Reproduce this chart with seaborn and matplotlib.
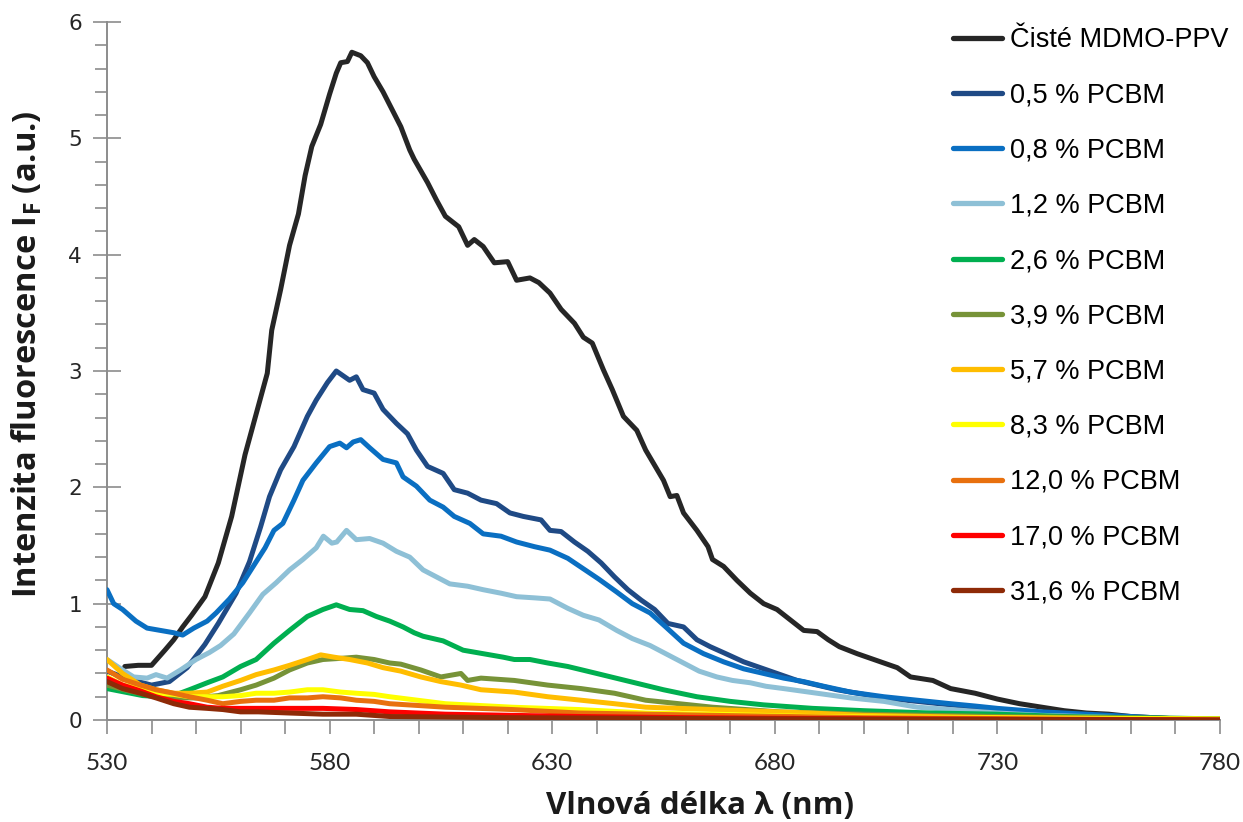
import matplotlib
matplotlib.use("Agg")
import matplotlib.pyplot as plt
from matplotlib.ticker import MultipleLocator, FixedLocator
import numpy as np
import pandas as pd
import seaborn as sns

# Fluorescence spectra (wavelength nm, intensity a.u.)
pure = [(534, 0.46), (537, 0.47), (540, 0.47), (543, 0.60), (545, 0.69), (547, 0.80), (549, 0.90),
        (552, 1.06), (555, 1.35), (558, 1.75), (561, 2.28), (564, 2.70), (566, 2.98), (567, 3.35),
        (569, 3.70), (571, 4.08), (573, 4.35), (574.5, 4.68), (576, 4.93), (578, 5.12), (580, 5.38),
        (581.5, 5.56), (582.5, 5.65), (584, 5.66), (585, 5.74), (587, 5.71), (588.5, 5.65), (590, 5.53),
        (592, 5.40), (594, 5.25), (596, 5.10), (598, 4.90), (599, 4.82), (602, 4.62), (604, 4.47),
        (606, 4.33), (609, 4.24), (611, 4.08), (612.5, 4.13), (614.5, 4.07), (617, 3.93), (620, 3.94),
        (622, 3.78), (625, 3.80), (627, 3.76), (629.5, 3.67), (632, 3.53), (635, 3.41), (637, 3.29),
        (639, 3.24), (641.5, 3.01), (643.5, 2.84), (646, 2.61), (649, 2.49), (651, 2.32), (655, 2.06),
        (656.5, 1.92), (658, 1.93), (659.5, 1.78), (662.5, 1.63), (665, 1.49), (666, 1.38), (668.5, 1.32),
        (671.5, 1.20), (674.5, 1.09), (677.5, 1.00), (680.5, 0.95), (683.5, 0.86), (686.5, 0.77),
        (689.5, 0.76), (692, 0.69), (694.5, 0.63), (698.5, 0.57), (701.5, 0.53), (704.5, 0.49),
        (707.5, 0.45), (710.5, 0.37), (715.5, 0.34), (719.5, 0.27), (725, 0.23), (730, 0.18),
        (735, 0.14), (740, 0.11), (745, 0.08), (750, 0.06), (755, 0.05), (760, 0.03), (765, 0.02),
        (770, 0.01), (775, 0.01), (780, 0.0)]

pcbm_05 = [(530, 0.42), (535, 0.35), (540, 0.30), (544, 0.33), (548, 0.45), (550, 0.55), (552, 0.65),
           (555, 0.83), (559, 1.09), (562, 1.36), (564.5, 1.66), (566.5, 1.92), (569, 2.15), (572, 2.35),
           (575, 2.61), (577, 2.75), (579.5, 2.90), (581.5, 3.00), (584.5, 2.92), (586, 2.95), (587.5, 2.84),
           (590, 2.81), (592, 2.67), (595, 2.55), (597.5, 2.46), (599.5, 2.32), (602, 2.18), (605.5, 2.12),
           (608, 1.98), (611, 1.95), (614, 1.89), (617.5, 1.86), (620.5, 1.78), (623.5, 1.75), (627.5, 1.72),
           (629.5, 1.63), (632, 1.62), (635, 1.53), (638, 1.45), (641, 1.35), (644, 1.23), (647, 1.12),
           (650, 1.03), (653, 0.95), (656, 0.83), (659.5, 0.80), (662.5, 0.69), (665.5, 0.63), (669, 0.57),
           (673, 0.50), (676, 0.46), (680.5, 0.40), (685, 0.34), (689.5, 0.30), (694, 0.26), (698.5, 0.23),
           (704.5, 0.19), (712, 0.16), (719.5, 0.13), (725, 0.11), (730, 0.09), (740, 0.06), (750, 0.04),
           (760, 0.02), (770, 0.01), (780, 0.0)]

pcbm_08 = [(530, 1.12), (531.5, 1.00), (533.5, 0.95), (536.5, 0.85), (539, 0.79), (542, 0.77), (545, 0.75),
           (547, 0.73), (549.5, 0.79), (552.5, 0.85), (554.5, 0.92), (557.5, 1.04), (560.5, 1.18),
           (563.5, 1.36), (565.5, 1.48), (567.5, 1.63), (569.5, 1.69), (572, 1.89), (574, 2.06), (577, 2.21),
           (580, 2.35), (582.3, 2.38), (583.8, 2.34), (585.3, 2.39), (587, 2.41), (589, 2.34), (592, 2.24),
           (595, 2.21), (596.5, 2.09), (599.5, 2.01), (602.5, 1.89), (605.5, 1.83), (608, 1.75), (611.5, 1.69),
           (614.5, 1.60), (618.5, 1.58), (622, 1.53), (626, 1.49), (629.5, 1.46), (633.5, 1.39), (637, 1.30),
           (640.5, 1.21), (644.5, 1.10), (648, 1.00), (652, 0.92), (655.5, 0.80), (659.5, 0.66), (664, 0.57),
           (668.5, 0.50), (673, 0.44), (677.5, 0.40), (682, 0.36), (686.5, 0.33), (691, 0.29), (697, 0.24),
           (704.5, 0.20), (712, 0.17), (719.5, 0.14), (725, 0.12), (730, 0.10), (740, 0.07), (750, 0.05),
           (760, 0.03), (770, 0.01), (780, 0.0)]

pcbm_12 = [(530, 0.52), (533.5, 0.43), (536, 0.37), (539, 0.36), (541, 0.39), (543.5, 0.36), (546.5, 0.43),
           (550, 0.52), (553, 0.58), (555.5, 0.64), (558.5, 0.74), (562, 0.92), (565, 1.08), (568, 1.18),
           (571, 1.29), (574, 1.38), (577, 1.48), (578.6, 1.58), (580.5, 1.52), (581.6, 1.53), (583.8, 1.63),
           (586, 1.55), (589, 1.56), (592, 1.52), (595, 1.45), (598, 1.40), (601, 1.29), (604, 1.23),
           (607, 1.17), (611, 1.15), (614.5, 1.12), (618.5, 1.09), (622, 1.06), (626, 1.05), (629.5, 1.04),
           (633.5, 0.96), (637, 0.90), (640.5, 0.86), (644.5, 0.77), (648, 0.70), (652, 0.64), (655.5, 0.57),
           (659.5, 0.49), (663, 0.42), (667, 0.37), (670.5, 0.34), (674.5, 0.32), (678, 0.29), (682, 0.27),
           (689.5, 0.23), (697, 0.19), (704.5, 0.16), (712, 0.11), (719.5, 0.09), (730, 0.06), (740, 0.04),
           (750, 0.03), (765, 0.01), (780, 0.0)]

pcbm_26 = [(530, 0.27), (534, 0.24), (538, 0.21), (542, 0.20), (545, 0.21), (548.5, 0.26), (552.5, 0.32),
           (556, 0.37), (560, 0.46), (563.5, 0.52), (567.5, 0.66), (571, 0.77), (575, 0.89), (578.5, 0.95),
           (581.5, 0.99), (584.5, 0.95), (587.5, 0.94), (590.5, 0.89), (593.5, 0.85), (596.5, 0.80),
           (599, 0.75), (601, 0.72), (605.5, 0.68), (610, 0.60), (614.5, 0.57), (619, 0.54), (621.5, 0.52),
           (625, 0.52), (629, 0.49), (633.5, 0.46), (640, 0.40), (647.5, 0.33), (655, 0.26), (662.5, 0.20),
           (670, 0.16), (677.5, 0.13), (688.5, 0.10), (700, 0.08), (715, 0.06), (730, 0.05), (745, 0.03),
           (760, 0.02), (780, 0.01)]

pcbm_39 = [(530, 0.30), (535, 0.25), (540, 0.21), (545, 0.19), (550, 0.19), (555, 0.21), (560, 0.26),
           (563.5, 0.30), (567.5, 0.36), (571, 0.43), (575, 0.49), (578.5, 0.52), (582.5, 0.53), (586, 0.54),
           (590, 0.52), (593.5, 0.49), (596, 0.48), (600.5, 0.43), (605, 0.37), (609.5, 0.40), (611, 0.34),
           (614, 0.36), (621.5, 0.34), (629, 0.30), (636.5, 0.27), (644, 0.23), (651, 0.17), (658.5, 0.14),
           (666, 0.11), (681, 0.07), (700, 0.05), (730, 0.03), (755, 0.02), (780, 0.01)]

pcbm_57 = [(530, 0.52), (533.5, 0.40), (537.5, 0.30), (541, 0.26), (545, 0.23), (548.5, 0.23), (552.5, 0.24),
           (556, 0.29), (560, 0.34), (563.5, 0.39), (567.5, 0.43), (571, 0.47), (575, 0.52), (578, 0.56),
           (581, 0.54), (584.5, 0.52), (588.5, 0.49), (592, 0.45), (596, 0.42), (600.5, 0.37), (605, 0.33),
           (609.5, 0.30), (614, 0.26), (621.5, 0.24), (629, 0.20), (636.5, 0.17), (644, 0.14), (651, 0.11),
           (666, 0.09), (688, 0.06), (700, 0.04), (730, 0.02), (760, 0.01), (780, 0.0)]

pcbm_83 = [(530, 0.37), (533.5, 0.30), (537.5, 0.27), (541, 0.23), (545, 0.22), (548.5, 0.20), (552.5, 0.20),
           (556, 0.20), (560, 0.21), (563.5, 0.23), (567.5, 0.23), (571, 0.24), (575, 0.26), (578.5, 0.26),
           (582.5, 0.24), (586, 0.23), (590, 0.22), (593.5, 0.20), (606, 0.14), (621, 0.11), (636, 0.09),
           (651, 0.06), (666, 0.05), (688.5, 0.03), (720, 0.02), (780, 0.01)]

pcbm_120 = [(530, 0.43), (533.5, 0.35), (537.5, 0.30), (541, 0.26), (545, 0.23), (548.5, 0.20), (552.5, 0.17),
            (556, 0.14), (560, 0.16), (563.5, 0.17), (567.5, 0.17), (571, 0.19), (575, 0.19), (578.5, 0.20),
            (582.5, 0.19), (586, 0.17), (590, 0.16), (593.5, 0.14), (606, 0.11), (621, 0.09), (636, 0.06),
            (651, 0.05), (666, 0.04), (700, 0.02), (780, 0.0)]

pcbm_170 = [(530, 0.36), (533.5, 0.30), (537.5, 0.25), (541, 0.20), (545, 0.16), (548.5, 0.14), (552.5, 0.11),
            (556, 0.10), (571, 0.10), (578.5, 0.10), (586, 0.09), (593.5, 0.07), (606, 0.05), (621, 0.04),
            (636, 0.03), (660, 0.02), (700, 0.01), (780, 0.0)]

pcbm_316 = [(530, 0.33), (533.5, 0.27), (537.5, 0.23), (541, 0.19), (545, 0.14), (548.5, 0.11), (552.5, 0.10),
            (556, 0.09), (560, 0.07), (564, 0.07), (571, 0.06), (578.5, 0.05), (586, 0.05), (593.5, 0.03),
            (620, 0.02), (680, 0.01), (780, 0.0)]

labels = ["Čisté MDMO-PPV", "0,5 % PCBM", "0,8 % PCBM", "1,2 % PCBM", "2,6 % PCBM", "3,9 % PCBM",
          "5,7 % PCBM", "8,3 % PCBM", "12,0 % PCBM", "17,0 % PCBM", "31,6 % PCBM"]
series = [pure, pcbm_05, pcbm_08, pcbm_12, pcbm_26, pcbm_39, pcbm_57, pcbm_83, pcbm_120, pcbm_170, pcbm_316]
colors = ["#262626", "#1F4A85", "#0A6FC2", "#8EC0D6", "#00AF50", "#779338", "#FFBD00", "#FFFF00",
          "#E8700E", "#FF0000", "#8E2A07"]
x_ticks = [530, 580, 630, 680, 730, 780]
y_ticks = [0, 1, 2, 3, 4, 5, 6]

frames = []
for lab, pts in zip(labels, series):
    arr = np.array(pts, dtype=float)
    frames.append(pd.DataFrame({"wl": arr[:, 0], "I": arr[:, 1], "vzorek": lab}))
df = pd.concat(frames, ignore_index=True)

sns.set_style("white")
plt.rcParams["font.family"] = ["Liberation Sans", "DejaVu Sans"]

W, H = 1243, 822
fig = plt.figure(figsize=(W / 100, H / 100), dpi=100)
ax = fig.add_axes([107 / W, (H - 720) / H, 1113 / W, 698 / H])

sns.lineplot(data=df, x="wl", y="I", hue="vzorek", hue_order=labels,
             palette=dict(zip(labels, colors)), estimator=None, sort=False,
             linewidth=3.6, ax=ax, legend=True)

ax.set_xlim(x_ticks[0], x_ticks[-1])
ax.set_ylim(y_ticks[0], y_ticks[-1])
ax.xaxis.set_major_locator(FixedLocator(x_ticks))
ax.xaxis.set_minor_locator(MultipleLocator(10))
ax.yaxis.set_major_locator(FixedLocator(y_ticks))
ax.yaxis.set_minor_locator(MultipleLocator(0.2))

axis_grey = "#8C8C8C"
for side in ("top", "right"):
    ax.spines[side].set_visible(False)
for side in ("left", "bottom"):
    ax.spines[side].set_color(axis_grey)
    ax.spines[side].set_linewidth(1.4)
    ax.spines[side].set_zorder(0.5)

ax.tick_params(axis="x", which="both", direction="out", length=10, width=1.2, color=axis_grey,
               bottom=True, pad=14)
ax.tick_params(axis="y", which="major", direction="inout", length=20, width=1.2, color=axis_grey, left=True,
               pad=8)
ax.tick_params(axis="y", which="minor", direction="out", length=9, width=1.2, color=axis_grey, left=True)

ax.set_xticklabels([str(v) for v in x_ticks])
ax.set_yticklabels([str(v) for v in y_ticks])
for t in ax.get_xticklabels():
    t.set_fontfamily("Lato")
    t.set_fontsize(17.5)
    t.set_color("#262626")
for t in ax.get_yticklabels():
    t.set_fontfamily("DejaVu Sans")
    t.set_fontsize(15.5)
    t.set_color("#262626")

ax.set_xlabel("")
ax.set_ylabel("")
fig.text(700 / W, 1 - 806 / H, "Vlnová délka λ (nm)", ha="center", va="center",
         fontsize=22.5, fontweight="bold", family="Open Sans", color="#1A1A1A")
fig.text(27 / W, 1 - 354 / H, r"Intenzita fluorescence I$_\mathregular{F}$ (a.u.)", ha="center",
         va="center", rotation=90, fontsize=23.5, fontweight="bold", family="Open Sans", color="#1A1A1A")

leg = ax.legend(loc="upper left", bbox_to_anchor=(953 / W, 1 - 27 / H), bbox_transform=fig.transFigure,
                frameon=False, fontsize=19.5, handlelength=1.8, handletextpad=0.3, labelspacing=1.08,
                borderpad=0, borderaxespad=0)
for line in leg.get_lines():
    line.set_linewidth(3.8)
    line.set_solid_capstyle("round")
for txt in leg.get_texts():
    txt.set_color("#000000")

fig.savefig("out.png", dpi=100)
